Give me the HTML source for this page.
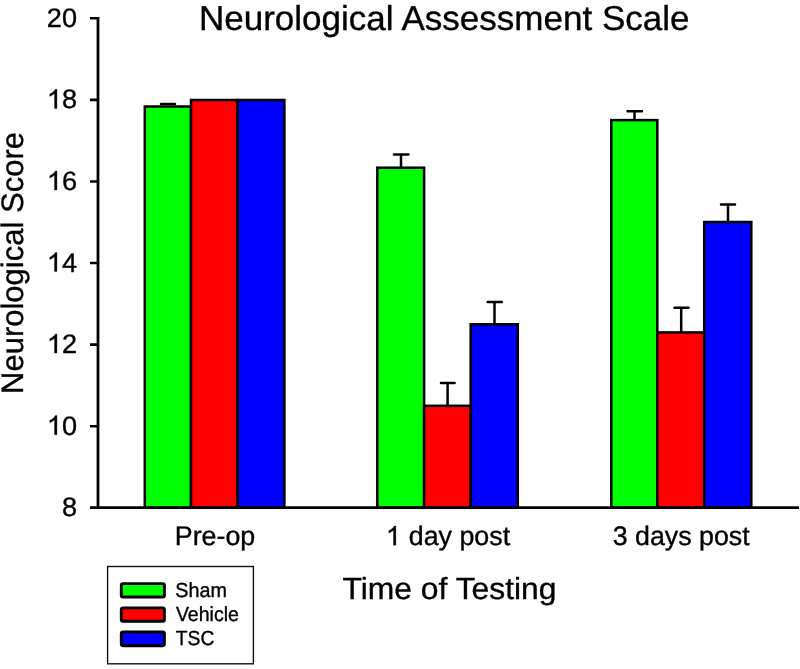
<!DOCTYPE html>
<html>
<head>
<meta charset="utf-8">
<title>Neurological Assessment Scale</title>
<style>
html,body{margin:0;padding:0;background:#fff;}
body{width:800px;height:669px;overflow:hidden;font-family:"Liberation Sans",sans-serif;}
svg{display:block;}
text{font-family:"Liberation Sans",sans-serif;fill:#000;text-rendering:geometricPrecision;stroke:#000;stroke-width:0.35px;}
svg{will-change:transform;}
</style>
</head>
<body>
<svg width="800" height="669" viewBox="0 0 800 669">
<rect width="800" height="669" fill="#fff"/>
<defs>
  <path id="one" d="M763 0H583V-1147Q518 -1085 412.5 -1023Q307 -961 223 -930V-1104Q374 -1175 487 -1276Q600 -1377 647 -1472H763Z" fill="#000" stroke="#000" stroke-width="0.35" vector-effect="non-scaling-stroke"/>
</defs>

<!-- title -->
<text x="198.9" y="30" font-size="34.5" textLength="490.7" lengthAdjust="spacingAndGlyphs">Neurological Assessment Scale</text>

<!-- y axis label -->
<text transform="translate(23.2,394) rotate(-90)" font-size="31" textLength="262" lengthAdjust="spacingAndGlyphs">Neurological Score</text>

<!-- x axis title -->
<text x="342.5" y="599.1" font-size="30.5" textLength="214" lengthAdjust="spacingAndGlyphs">Time of Testing</text>

<!-- bars -->
<g stroke="#000" stroke-width="2.5" stroke-linejoin="miter">
  <!-- group 1 -->
  <rect x="144.8" y="106.5" width="46.2" height="401.3" fill="#00ff00"/>
  <rect x="191" y="100" width="46.6" height="407.8" fill="#ff0000"/>
  <rect x="237.6" y="100" width="46.8" height="407.8" fill="#0000ff"/>
  <!-- group 2 -->
  <rect x="377.3" y="167.7" width="46.8" height="340.1" fill="#00ff00"/>
  <rect x="424.1" y="405.8" width="46.6" height="102" fill="#ff0000"/>
  <rect x="470.7" y="324.3" width="47.1" height="183.5" fill="#0000ff"/>
  <!-- group 3 -->
  <rect x="611.3" y="120.1" width="46" height="387.7" fill="#00ff00"/>
  <rect x="657.3" y="332.4" width="46.9" height="175.4" fill="#ff0000"/>
  <rect x="704.2" y="222" width="47.1" height="285.8" fill="#0000ff"/>
</g>

<!-- error bars -->
<g stroke="#000" stroke-width="2.5" fill="none" stroke-linecap="round">
  <path d="M161 104 H175"/>
  <path d="M401 167.7 V154.5 M394 154.5 H408.5"/>
  <path d="M447.6 405.8 V383 M441 383 H454.6"/>
  <path d="M494.5 324.3 V302 M487.7 302 H501.8"/>
  <path d="M634.5 120.1 V111.2 M627.5 111.2 H642"/>
  <path d="M681.2 332.4 V307.7 M674.5 307.7 H688.5"/>
  <path d="M728 222 V204.5 M721 204.5 H735"/>
</g>

<!-- axes -->
<g stroke="#000" stroke-width="2.6" fill="none">
  <path d="M98 17 V509" stroke-width="2.8"/>
  <path d="M90 507.6 H799"/>
  <path d="M90 18.3 H98 M90 99.9 H98 M90 181.5 H98 M90 263 H98 M90 344.6 H98 M90 426.2 H98"/>
</g>

<!-- y tick labels -->
<g font-size="26.6" text-anchor="end" transform="translate(77,0) scale(1.02,1) translate(-77,0)">
  <text x="77" y="26.8">20</text>
  <use href="#one" transform="translate(47.41,108.4) scale(0.012988)"/><text x="77" y="108.4">8</text>
  <use href="#one" transform="translate(47.41,190.0) scale(0.012988)"/><text x="77" y="190.0">6</text>
  <use href="#one" transform="translate(47.41,271.5) scale(0.012988)"/><text x="77" y="271.5">4</text>
  <use href="#one" transform="translate(47.41,353.1) scale(0.012988)"/><text x="77" y="353.1">2</text>
  <use href="#one" transform="translate(47.41,434.7) scale(0.012988)"/><text x="77" y="434.7">0</text>
  <text x="77" y="516.3">8</text>
</g>

<!-- x category labels -->
<g font-size="26.8" text-anchor="middle">
  <text x="215" y="545.2">Pre-op</text>
  <use href="#one" transform="translate(385.87,545.2) scale(0.013086)"/><text x="408.82" y="545.2" text-anchor="start">day post</text>
  <text x="681.2" y="545.2">3 days post</text>
</g>

<!-- legend -->
<rect x="107.6" y="566.5" width="145.8" height="97.3" fill="#fff" stroke="#111" stroke-width="1.4"/>
<g stroke="#000" stroke-width="2.9">
  <rect x="121.3" y="583.65" width="43.1" height="13.4" rx="1.6" fill="#00ff00"/>
  <rect x="121.3" y="607.85" width="43.1" height="13.4" rx="1.6" fill="#ff0000"/>
  <rect x="121.3" y="632" width="43.1" height="13.7" rx="1.6" fill="#0000ff"/>
</g>
<g font-size="20.3">
  <text x="175.3" y="596.8" textLength="51.6" lengthAdjust="spacingAndGlyphs">Sham</text>
  <text x="175.9" y="621.1" textLength="63" lengthAdjust="spacingAndGlyphs">Vehicle</text>
  <text x="175.8" y="645.4" textLength="38.6" lengthAdjust="spacingAndGlyphs">TSC</text>
</g>
</svg>
</body>
</html>
